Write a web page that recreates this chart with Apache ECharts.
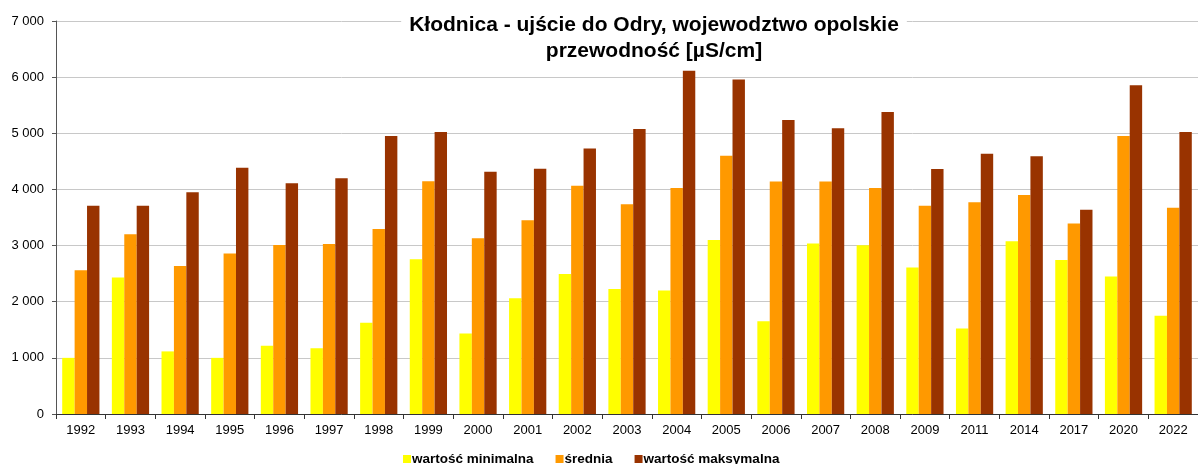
<!DOCTYPE html>
<html>
<head>
<meta charset="utf-8">
<script src="https://cdn.jsdelivr.net/npm/echarts@6/dist/echarts.min.js"></script>
<style>
  html, body { margin: 0; padding: 0; background: #fff; }
  #main { width: 1198px; height: 464px; }
</style>
</head>
<body>
<div id="main"></div>
<script>
var years = ["1992", "1993", "1994", "1995", "1996", "1997", "1998", "1999", "2000", "2001", "2002",
  "2003", "2004", "2005", "2006", "2007", "2008", "2009", "2011", "2014", "2017", "2020", "2022"];
var minValues = [1000, 2430, 1115, 1000, 1215, 1170, 1625, 2755, 1435, 2060, 2495,
  2225, 2200, 3100, 1650, 3035, 3005, 2610, 1525, 3075, 2745, 2450, 1750];
var avgValues = [2560, 3200, 2635, 2860, 3010, 3030, 3295, 4145, 3130, 3450, 4065,
  3735, 4025, 4600, 4140, 4140, 4025, 3710, 3770, 3900, 3395, 4950, 3675];
var maxValues = [3710, 3710, 3950, 4385, 4110, 4200, 4950, 5025, 4315, 4370, 4730,
  5075, 6115, 5960, 5235, 5090, 5380, 4365, 4635, 4590, 3640, 5855, 5025];
var seriesNames = ["wartość minimalna", "średnia", "wartość maksymalna"];

var chartDom = document.getElementById("main");
var myChart = echarts.init(chartDom);
var font = "Liberation Sans, Arial, sans-serif";

var option = {
  animation: false,
  title: {
    text: "Kłodnica - ujście do Odry, wojewodztwo opolskie\nprzewodność [µS/cm]",
    left: 646,
    top: 9,
    textAlign: "center",
    backgroundColor: "#fff",
    padding: [3, 8],
    textStyle: {
      fontFamily: font,
      fontSize: 21,
      fontWeight: "bold",
      color: "#000",
      lineHeight: 26
    }
  },
  legend: {
    bottom: -7,
    left: 398,
    icon: "rect",
    itemWidth: 8,
    itemHeight: 8,
    itemGap: 22,
    textStyle: {
      fontFamily: font,
      fontSize: 13.5,
      fontWeight: "bold",
      color: "#000",
      padding: [0, 0, 0, -4]
    },
    data: seriesNames
  },
  grid: {
    left: 56,
    right: 0,
    top: 21,
    bottom: 50,
    containLabel: false
  },
  xAxis: {
    type: "category",
    data: years,
    axisLine: { lineStyle: { color: "#333", width: 1 } },
    axisTick: { show: true, alignWithLabel: false, length: 5, lineStyle: { color: "#333" } },
    axisLabel: { fontFamily: font, fontSize: 13, color: "#000", margin: 10 }
  },
  yAxis: {
    type: "value",
    min: 0,
    max: 7000,
    interval: 1000,
    axisLine: { show: true, lineStyle: { color: "#555", width: 1 } },
    axisTick: { show: true, length: 4, lineStyle: { color: "#555" } },
    axisLabel: {
      fontFamily: font,
      fontSize: 13,
      color: "#000",
      margin: 12,
      formatter: function (v) {
        return String(v).replace(/\B(?=(\d{3})+(?!\d))/g, " ");
      }
    },
    splitLine: { lineStyle: { color: "#c8c8c8", width: 1 } }
  },
  series: [
    {
      name: seriesNames[0],
      type: "bar",
      data: minValues,
      barGap: "0%",
      barCategoryGap: "25%",
      itemStyle: { color: "#ffff00" }
    },
    {
      name: seriesNames[1],
      type: "bar",
      data: avgValues,
      itemStyle: { color: "#ff9900" }
    },
    {
      name: seriesNames[2],
      type: "bar",
      data: maxValues,
      itemStyle: { color: "#993300" }
    }
  ]
};

option && myChart.setOption(option);
</script>
</body>
</html>
